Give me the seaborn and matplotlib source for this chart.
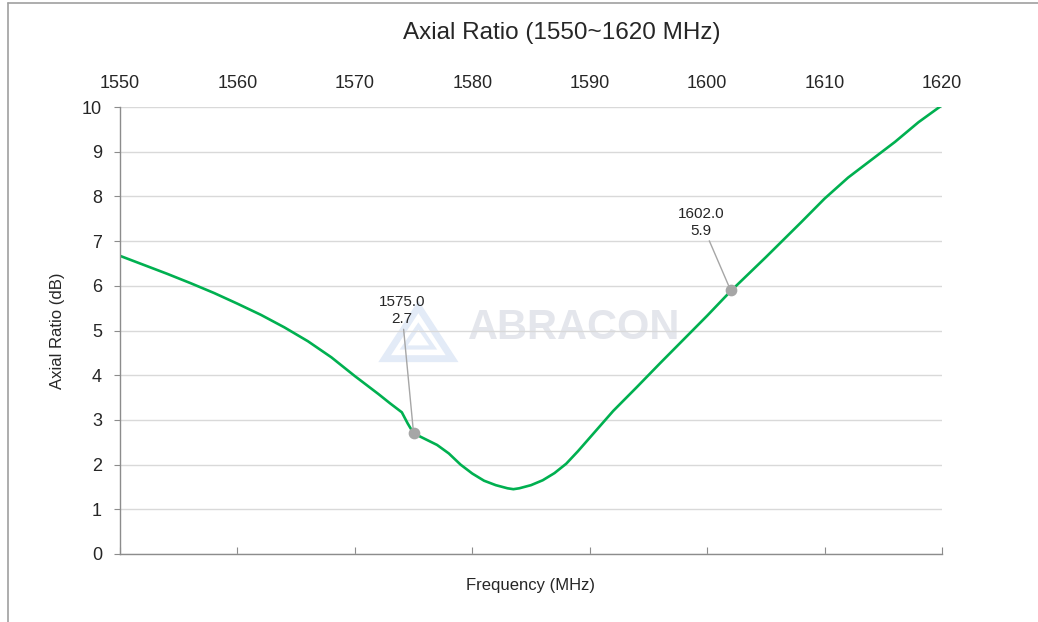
import pandas as pd
import numpy as np
import matplotlib.pyplot as plt
import seaborn as sns
from matplotlib.lines import Line2D
from matplotlib.patches import Polygon

# Datos (Frecuencia en MHz, Axial Ratio en dB)
freq = [1550, 1552, 1554, 1556, 1558, 1560, 1562, 1564, 1566, 1568, 1570,
        1572, 1573, 1574, 1574.5, 1575, 1576, 1577, 1578, 1579, 1580, 1581,
        1582, 1583, 1583.5, 1584, 1585, 1586, 1587, 1588, 1589, 1590, 1592,
        1594, 1596, 1598, 1600, 1602, 1605, 1608, 1610, 1612, 1614, 1616,
        1618, 1620]
axial_ratio = [6.67, 6.47, 6.27, 6.06, 5.84, 5.60, 5.35, 5.07, 4.76, 4.40, 3.98,
               3.58, 3.37, 3.17, 2.92, 2.70, 2.57, 2.44, 2.25, 2.00, 1.80, 1.64,
               1.54, 1.47, 1.45, 1.47, 1.54, 1.65, 1.81, 2.02, 2.30, 2.60, 3.20,
               3.73, 4.27, 4.80, 5.33, 5.88, 6.64, 7.42, 7.95, 8.42, 8.82, 9.22,
               9.66, 10.04]

marker_freq = [1575.0, 1602.0]
marker_val = [2.7, 5.9]

df = pd.DataFrame({'Frequency': freq, 'AR': axial_ratio})

sns.set_style("white")
plt.rcParams['font.family'] = ['Liberation Sans', 'DejaVu Sans']

fig = plt.figure(figsize=(10.38, 6.22), dpi=100)
ax = fig.add_axes([120 / 1038, 68 / 622, 822 / 1038, 447 / 622])

sns.lineplot(data=df, x='Frequency', y='AR', ax=ax, color='#00B050', linewidth=1.9)

ax.set_xlim(1550, 1620)
ax.set_ylim(0, 10)
ax.set_xticks(np.arange(1550, 1621, 10))
ax.set_yticks(np.arange(0, 11, 1))
ax.yaxis.grid(True, color='#d9d9d9', linewidth=1)
ax.xaxis.grid(False)

for s in ['top', 'right']:
    ax.spines[s].set_visible(False)
for s in ['left', 'bottom']:
    ax.spines[s].set_color('#8c8c8c')
    ax.spines[s].set_linewidth(1)

ax.tick_params(axis='x', bottom=True, top=False, labelbottom=False, labeltop=True,
               direction='in', length=5, color='#8c8c8c', pad=11, labelsize=13)
ax.tick_params(axis='y', left=True, direction='out', length=4, color='#8c8c8c',
               pad=9, labelsize=13)

ax.set_xlabel('Frequency (MHz)', fontsize=12, labelpad=17)
ax.xaxis.set_label_position('bottom')
ax.set_ylabel('Axial Ratio (dB)', fontsize=12, labelpad=12)

fig.text(562 / 1038, 1 - 33 / 622, 'Axial Ratio (1550~1620 MHz)', ha='center',
         va='center', fontsize=17.5)

# Marca de agua
ax.text(0.553, 0.505, 'ABRACON', transform=ax.transAxes, fontsize=30,
        fontweight='bold', color='#e4e6ec', ha='center', va='center', zorder=0)
ax.add_patch(Polygon([[0.322, 0.437], [0.363, 0.553], [0.404, 0.437]], closed=True,
                     fill=False, edgecolor='#e3ebf7', linewidth=5,
                     transform=ax.transAxes, zorder=0))
ax.add_patch(Polygon([[0.345, 0.462], [0.363, 0.510], [0.381, 0.462]], closed=True,
                     fill=False, edgecolor='#e3ebf7', linewidth=3,
                     transform=ax.transAxes, zorder=0))

# Marcadores y etiquetas
ax.scatter(marker_freq, marker_val, s=55, color='#a6a6a6', zorder=5)
offsets = [(-1.0, 2.4), (-2.5, 1.18)]
for f, v, (dx, dy) in zip(marker_freq, marker_val, offsets):
    ax.annotate(f'{f:.1f}\n{v:.1f}', xy=(f, v), xytext=(f + dx, v + dy),
                ha='center', va='bottom', fontsize=11, linespacing=1.25,
                arrowprops=dict(arrowstyle='-', color='#a6a6a6', lw=1,
                                shrinkA=0, shrinkB=0))

# Marco del gráfico
fig.add_artist(Line2D([8 / 1038, 8 / 1038], [0, 1 - 3 / 622], color='#a0a0a0', lw=1.2))
fig.add_artist(Line2D([8 / 1038, 1], [1 - 3 / 622, 1 - 3 / 622], color='#a0a0a0', lw=1.2))

plt.savefig('out.png', dpi=100)
